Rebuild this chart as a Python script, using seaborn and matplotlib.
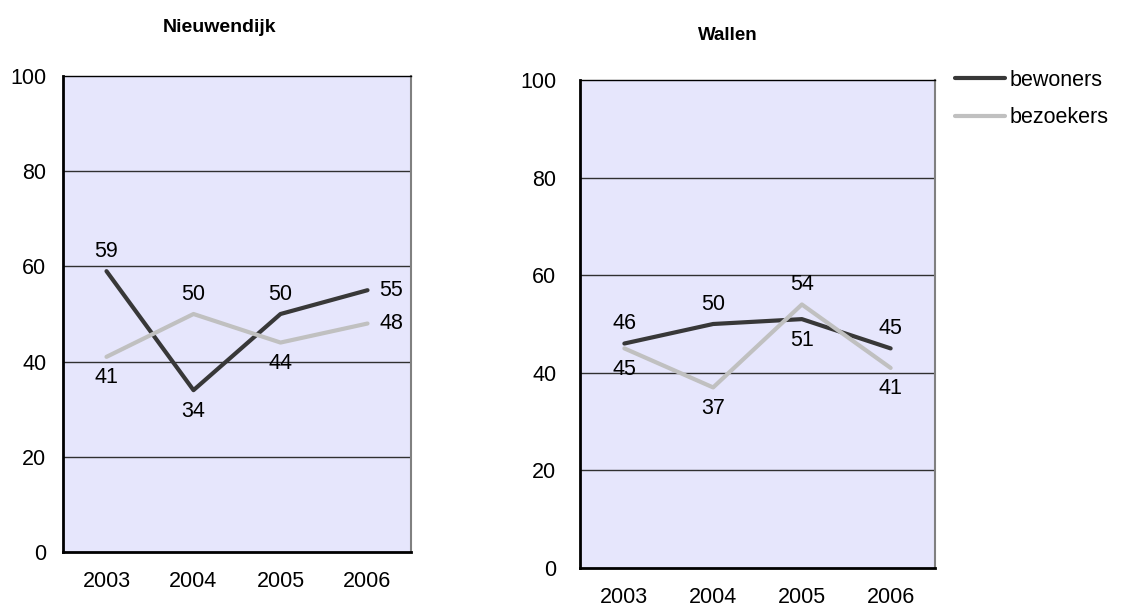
import pandas as pd
import seaborn as sns
import matplotlib.pyplot as plt

jaren = ["2003", "2004", "2005", "2006"]
groepen = ["bewoners", "bezoekers"]

# Nieuwendijk
nieuwendijk_bewoners = [59, 34, 50, 55]
nieuwendijk_bezoekers = [41, 50, 44, 48]
# Wallen
wallen_bewoners = [46, 50, 51, 45]
wallen_bezoekers = [45, 37, 54, 41]

kleuren = {"bewoners": "#383838", "bezoekers": "#c0c0c0"}

# waar de waardelabels staan (boven / onder / rechts)
plek_nieuwendijk = {"bewoners": ["b", "o", "b", "r"], "bezoekers": ["o", "b", "o", "r"]}
plek_wallen = {"bewoners": ["b", "b", "o", "b"], "bezoekers": ["o", "o", "b", "o"]}

sns.set_style("white")
plt.rcParams["font.family"] = ["Liberation Sans", "DejaVu Sans"]
plt.rcParams["text.color"] = "black"
plt.rcParams["xtick.color"] = "black"
plt.rcParams["ytick.color"] = "black"

FS = 15.5


def maak_df(bew, bez):
    rijen = []
    for g, vals in zip(groepen, [bew, bez]):
        for j, v in zip(jaren, vals):
            rijen.append({"jaar": j, "waarde": v, "groep": g})
    return pd.DataFrame(rijen)


def teken(ax, df, plek, ypad):
    ax.set_facecolor("#e6e6fc")
    for y in [20, 40, 60, 80]:
        ax.axhline(y, color="#303030", lw=1, zorder=1)
    sns.lineplot(data=df, x="jaar", y="waarde", hue="groep", palette=kleuren,
                 sort=False, lw=3, ax=ax, legend=False, zorder=3)
    for g in groepen:
        sub = df[df["groep"] == g].reset_index(drop=True)
        for i, row in sub.iterrows():
            p = plek[g][i]
            if p == "b":
                off, ha, va = (0, 20), "center", "center"
            elif p == "o":
                off, ha, va = (0, -21), "center", "center"
            else:
                off, ha, va = (12, 0), "left", "center"
            ax.annotate(str(row["waarde"]), (i, row["waarde"]), xytext=off,
                        textcoords="offset pixels", ha=ha, va=va, fontsize=FS)
    ax.set_xlim(-0.5, 3.5)
    ax.set_ylim(0, 100)
    ax.set_yticks([0, 20, 40, 60, 80, 100])
    ax.set_xlabel("")
    ax.set_ylabel("")
    ax.tick_params(axis="x", length=0, pad=14, labelsize=FS)
    ax.tick_params(axis="y", length=0, pad=ypad, labelsize=FS)
    for s in ["left", "bottom"]:
        ax.spines[s].set_color("black")
        ax.spines[s].set_linewidth(2)
    ax.spines["top"].set_color("black")
    ax.spines["top"].set_linewidth(1)
    ax.spines["right"].set_color("#808080")
    ax.spines["right"].set_linewidth(1.5)


fig = plt.figure(figsize=(11.25, 6.1), dpi=100)
ax1 = fig.add_axes([63 / 1125, 58 / 610, 348 / 1125, 476 / 610])
ax2 = fig.add_axes([580 / 1125, 42 / 610, 355 / 1125, 488 / 610])

teken(ax1, maak_df(nieuwendijk_bewoners, nieuwendijk_bezoekers), plek_nieuwendijk, 12)
teken(ax2, maak_df(wallen_bewoners, wallen_bezoekers), plek_wallen, 17)

fig.text(220 / 1125, 1 - 27 / 610, "Nieuwendijk", ha="center", va="center",
         fontsize=14, fontweight="bold")
fig.text(728 / 1125, 1 - 35 / 610, "Wallen", ha="center", va="center",
         fontsize=13.5, fontweight="bold")

handles = [plt.Line2D([], [], color=kleuren[g], lw=3) for g in groepen]
fig.legend(handles, groepen, loc="upper left", bbox_to_anchor=(955 / 1125, 1 - 70 / 610),
           frameon=False, fontsize=FS, borderpad=0, borderaxespad=0,
           handlelength=2.3, handletextpad=0.25, labelspacing=0.75)

fig.savefig("out.png", dpi=100)
